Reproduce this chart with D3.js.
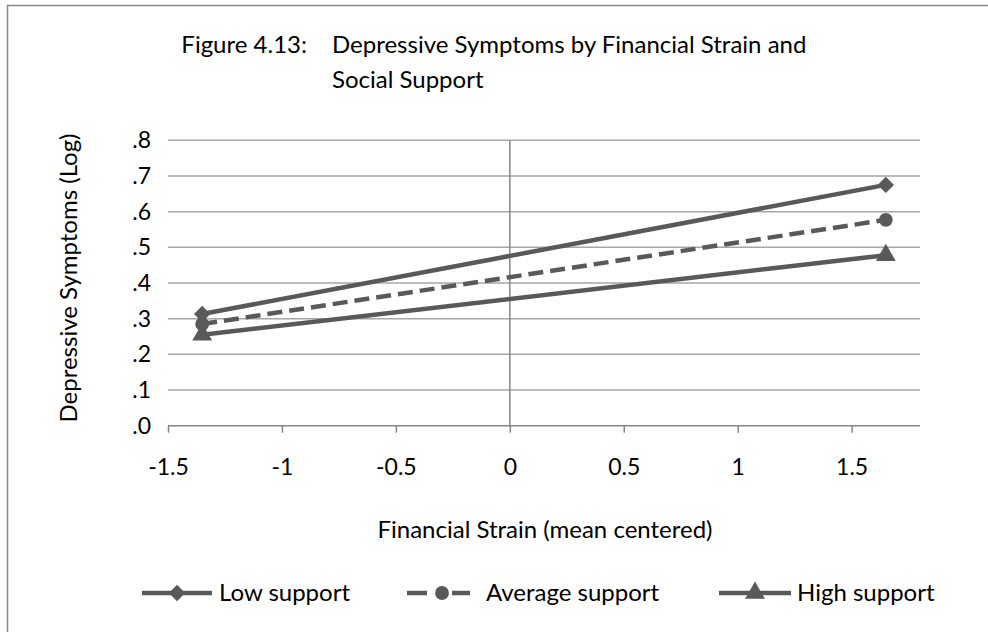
<!DOCTYPE html>
<html>
<head>
<meta charset="utf-8">
<script src="https://cdn.jsdelivr.net/npm/d3@7"></script>
<style>
  html, body { margin: 0; padding: 0; background: #fff; }
  svg { display: block; font-family: Lato, "Open Sans", sans-serif; }
</style>
</head>
<body>
<svg id="chart" width="988" height="632"></svg>
<script>
// Predicted depressive symptoms (log) at low / high financial strain
const strainLevels = [-1.35, 1.65];
const lowSupport = [0.313, 0.675];
const averageSupport = [0.285, 0.577];
const highSupport = [0.255, 0.478];

const seriesNames = ["Low support", "Average support", "High support"];
const xTicks = [-1.5, -1, -0.5, 0, 0.5, 1, 1.5];
const xTickLabels = ["-1.5", "-1", "-0.5", "0", "0.5", "1", "1.5"];
const yTicks = [0, 0.1, 0.2, 0.3, 0.4, 0.5, 0.6, 0.7, 0.8];
const yTickLabels = [".0", ".1", ".2", ".3", ".4", ".5", ".6", ".7", ".8"];

const titleLead = "Figure 4.13:";
const titleLines = ["Depressive Symptoms by Financial Strain and", "Social Support"];
const xTitle = "Financial Strain (mean centered)";
const yTitle = "Depressive Symptoms (Log)";

const ink = "#595959";
const gridColor = "#a6a6a6";
const axisColor = "#868686";
const textColor = "#000";
const fontSize = 24;
const tickFontSize = 23;

const svg = d3.select("#chart");

// chart frame
svg.append("rect")
  .attr("x", 7.5).attr("y", 5.5)
  .attr("width", 990).attr("height", 640)
  .attr("fill", "#fff")
  .attr("stroke", "#888").attr("stroke-width", 1.5);

const x = d3.scaleLinear().domain([-1.5, 1.8]).range([168, 920]);
const y = d3.scaleLinear().domain([0, 0.8]).range([425.7, 140.3]);

// horizontal gridlines
svg.append("g").selectAll("line")
  .data(yTicks.slice(1))
  .join("line")
  .attr("x1", x(-1.5)).attr("x2", x(1.8))
  .attr("y1", d => y(d)).attr("y2", d => y(d))
  .attr("stroke", gridColor).attr("stroke-width", 1.5);

// vertical axis crossing at zero strain
svg.append("line")
  .attr("x1", x(0)).attr("x2", x(0))
  .attr("y1", y(0)).attr("y2", y(0.8))
  .attr("stroke", axisColor).attr("stroke-width", 1.5);

// x axis along zero
const xAxis = d3.axisBottom(x)
  .tickValues(xTicks)
  .tickFormat((d, i) => xTickLabels[i])
  .tickSize(7)
  .tickPadding(26)
  .tickSizeOuter(0);
const gx = svg.append("g")
  .attr("transform", `translate(0,${y(0)})`)
  .call(xAxis);
gx.select(".domain").attr("stroke", axisColor).attr("stroke-width", 1.5)
  .attr("d", `M${x(-1.5)},0H${x(1.8)}`);
gx.selectAll(".tick line").attr("stroke", axisColor).attr("stroke-width", 1.5);
gx.selectAll(".tick text")
  .attr("fill", textColor)
  .style("font-size", tickFontSize + "px")
  .style("font-family", "Lato, sans-serif");

// y tick labels at the left edge
const yAxis = d3.axisLeft(y)
  .tickValues(yTicks)
  .tickFormat((d, i) => yTickLabels[i])
  .tickSize(0)
  .tickPadding(17);
const gy = svg.append("g")
  .attr("transform", `translate(${x(-1.5)},0)`)
  .call(yAxis);
gy.select(".domain").remove();
gy.selectAll(".tick text")
  .attr("fill", textColor)
  .style("font-size", tickFontSize + "px")
  .style("font-family", "Lato, sans-serif");

// series lines
const series = [
  { name: seriesNames[0], values: lowSupport, dash: null, marker: "diamond" },
  { name: seriesNames[1], values: averageSupport, dash: "15,7", marker: "circle" },
  { name: seriesNames[2], values: highSupport, dash: null, marker: "triangle" }
];

const line = d3.line().x(d => x(d[0])).y(d => y(d[1]));
const symbolTypes = { diamond: d3.symbolDiamond2, circle: d3.symbolCircle, triangle: d3.symbolTriangle };
const symbolSize = m => m === "circle" ? 150 : 170;

series.forEach(s => {
  const pts = strainLevels.map((v, i) => [v, s.values[i]]);
  svg.append("path")
    .attr("d", line(pts))
    .attr("fill", "none")
    .attr("stroke", ink)
    .attr("stroke-width", 4.5)
    .attr("stroke-dasharray", s.dash);
  svg.append("g").selectAll("path")
    .data(pts)
    .join("path")
    .attr("transform", d => `translate(${x(d[0])},${y(d[1])})`)
    .attr("d", d3.symbol(symbolTypes[s.marker], symbolSize(s.marker)))
    .attr("fill", ink);
});

// titles
const title = svg.append("g").attr("fill", textColor).style("font-size", fontSize + "px");
title.append("text").attr("x", 307).attr("y", 53).attr("text-anchor", "end").text(titleLead);
titleLines.forEach((t, i) => {
  title.append("text").attr("x", 332).attr("y", 53 + i * 35).text(t);
});

svg.append("text")
  .attr("x", 545).attr("y", 538)
  .attr("text-anchor", "middle")
  .attr("fill", textColor)
  .style("font-size", fontSize + "px")
  .text(xTitle);

svg.append("text")
  .attr("transform", "translate(69,278) rotate(-90)")
  .attr("dy", "0.35em")
  .attr("text-anchor", "middle")
  .attr("fill", textColor)
  .style("font-size", fontSize + "px")
  .text(yTitle);

// legend
const legendY = 593;
const legendItems = [
  { s: series[0], x1: 142, x2: 212, text: 219, dash: null },
  { s: series[1], x1: 407, x2: 470, text: 486, dash: "20,25" },
  { s: series[2], x1: 719, x2: 791, text: 797, dash: null }
];
const legend = svg.append("g");
legendItems.forEach(item => {
  legend.append("line")
    .attr("x1", item.x1).attr("x2", item.x2)
    .attr("y1", legendY).attr("y2", legendY)
    .attr("stroke", ink).attr("stroke-width", 4.5)
    .attr("stroke-dasharray", item.dash);
  legend.append("path")
    .attr("transform", `translate(${item.s.marker === "circle" ? 442 : (item.x1 + item.x2) / 2},${legendY})`)
    .attr("d", d3.symbol(symbolTypes[item.s.marker], symbolSize(item.s.marker)))
    .attr("fill", ink);
  legend.append("text")
    .attr("x", item.text).attr("y", legendY)
    .attr("dy", "0.35em")
    .attr("fill", textColor)
    .style("font-size", fontSize + "px")
    .text(item.s.name);
});
</script>
</body>
</html>
